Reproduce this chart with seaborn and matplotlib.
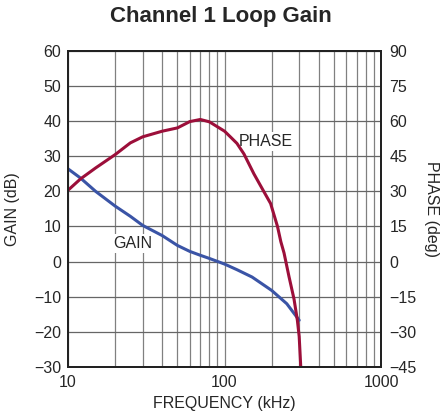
import pandas as pd
import matplotlib
matplotlib.use("Agg")
import matplotlib.pyplot as plt
from matplotlib.ticker import FixedLocator, NullFormatter
import seaborn as sns

# values
gain_freq = [10, 12, 15, 20, 25, 30, 40, 50, 60, 70, 80, 100, 120, 150, 200, 250, 300]
gain_db = [26.4, 23.8, 20.0, 15.8, 12.9, 10.3, 7.4, 4.6, 2.9, 1.8, 0.9, -0.7,
           -2.3, -4.4, -8.2, -12.0, -16.7]

phase_freq = [10, 12, 15, 20, 25, 30, 40, 50, 60, 70, 80, 100, 110, 120, 133,
              154, 178, 197, 218, 229, 240, 258, 278, 292, 300, 307]
phase_deg = [30.5, 35.3, 40, 45.7, 50.7, 53.3, 55.7, 57.1, 59.8, 60.7, 59.7,
             55.7, 53, 50.5, 46, 37.5, 30, 24.8, 15, 8.5, 3.7, -6.3, -16,
             -25, -32, -45]

left_ticks = [-30, -20, -10, 0, 10, 20, 30, 40, 50, 60]
right_ticks = [-45, -30, -15, 0, 15, 30, 45, 60, 75, 90]

gain_df = pd.DataFrame({"freq": gain_freq, "gain": gain_db})
phase_df = pd.DataFrame({"freq": phase_freq, "phase": phase_deg})

sns.set_style("white")
plt.rcParams["font.family"] = ["Liberation Sans", "DejaVu Sans"]

fig = plt.figure(figsize=(4.42, 4.17), dpi=100)
ax = fig.add_axes([0.154, 0.12, 0.708, 0.758])
ax2 = ax.twinx()

sns.lineplot(data=gain_df, x="freq", y="gain", ax=ax, color="#3a54a6", lw=2.2)
sns.lineplot(data=phase_df, x="freq", y="phase", ax=ax2, color="#9c0f3a", lw=2.2)

ax.set_xscale("log")
ax.set_xlim(10, 1000)
ax.set_ylim(-30, 60)
ax2.set_ylim(-45, 90)

minor = [m * d for d in (10, 100) for m in range(2, 10)]
ax.xaxis.set_minor_locator(FixedLocator(minor))
ax.xaxis.set_minor_formatter(NullFormatter())
ax.set_xticks([10, 100, 1000])
ax.set_xticklabels(["10", "100", "1000"])
ax.set_yticks(left_ticks)
ax.set_yticklabels([str(t).replace("-", "\u2212") for t in left_ticks])
ax2.set_yticks(right_ticks)
ax2.set_yticklabels([str(t).replace("-", "\u2212") for t in right_ticks])

ax.grid(True, which="both", axis="x", color="#808080", lw=0.9)
ax.grid(True, which="major", axis="y", color="#666666", lw=0.9)
ax.set_axisbelow(True)
ax2.grid(False)

for a in (ax, ax2):
    a.tick_params(which="both", length=0, labelsize=11.5)
    for s in a.spines.values():
        s.set_color("#222222")
        s.set_linewidth(1.4)
ax.tick_params(axis="x", pad=6)
ax.tick_params(axis="y", pad=5)
ax2.tick_params(axis="y", pad=6)

ax.set_xlabel("FREQUENCY (kHz)", fontsize=11.5, labelpad=4)
ax.set_ylabel("GAIN (dB)", fontsize=11.5, va="center")
ax.yaxis.set_label_coords(-0.176, 0.5)
ax2.set_ylabel("PHASE (deg)", fontsize=11.5, rotation=270, va="center")
ax2.yaxis.set_label_coords(1.16, 0.5)

box = dict(facecolor="white", edgecolor="none", pad=1.5)
ax.text(26, 5.2, "GAIN", fontsize=11.5, ha="center", va="center", bbox=box)
ax.text(183, 34.2, "PHASE", fontsize=11.5, ha="center", va="center", bbox=box)

fig.suptitle("Channel 1 Loop Gain", fontsize=16, fontweight="bold", y=0.985)

plt.savefig("out.png", dpi=100)
